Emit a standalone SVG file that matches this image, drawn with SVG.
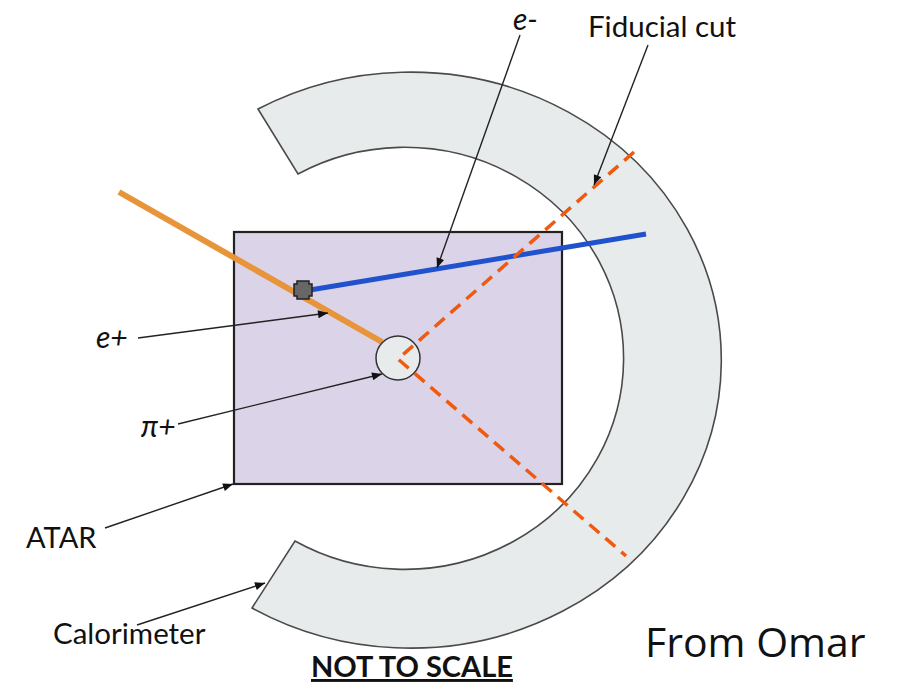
<svg xmlns="http://www.w3.org/2000/svg" width="897" height="686" viewBox="0 0 897 686">
<style>
.lbl{font-family:Lato,"Liberation Sans",sans-serif;fill:#111}
.it{font-style:italic}
.ptr{stroke:#222;stroke-width:1.4;fill:none;marker-end:url(#ah)}
.cut{stroke:#f05a0f;stroke-width:3.5;fill:none;stroke-dasharray:13 8}
</style>
<defs>
<marker id="ah" viewBox="0 0 10 8" refX="10" refY="4" markerWidth="11" markerHeight="8" markerUnits="userSpaceOnUse" orient="auto">
<path d="M0,0 L10,4 L0,8 Z" fill="#111"/>
</marker>
</defs>
<rect width="897" height="686" fill="#fff"/>
<g id="calorimeter">
<path d="M258,109 A311,288 0 1 1 252,608 L295,541 A219,211 0 1 0 298,174 Z" fill="#e8ebec" stroke="#4a4a4a" stroke-width="1.6"/>
</g>
<g id="atar">
<rect x="234" y="232" width="328" height="252" fill="#dbd3e8" stroke="#222" stroke-width="2.2"/>
</g>
<g id="tracks">
<line x1="119" y1="192" x2="382" y2="342" stroke="#e8943a" stroke-width="6"/>
<line x1="310" y1="290" x2="646" y2="234" stroke="#1f52cc" stroke-width="5"/>
</g>
<g id="pion">
<circle cx="398" cy="358" r="22" fill="#e8ebec" stroke="#333" stroke-width="1.5"/>
</g>
<g id="fiducial">
<path class="cut" d="M634,152 L398,359 L626,556"/>
</g>
<g id="vertex">
<polygon points="297,281 309,281 309,284 312,284 312,296 309,296 309,299 297,299 297,296 294,296 294,284 297,284" fill="#676767" stroke="#222" stroke-width="1.5"/>
</g>
<g id="connectors">
<line class="ptr" x1="520" y1="35" x2="437" y2="268"/>
<line class="ptr" x1="648" y1="45" x2="594" y2="185"/>
<line class="ptr" x1="138" y1="338" x2="328" y2="313"/>
<line class="ptr" x1="178" y1="424" x2="382" y2="374"/>
<line class="ptr" x1="105" y1="528" x2="233" y2="484"/>
<line class="ptr" x1="137" y1="625" x2="265" y2="583"/>
</g>
<g id="labels">
<text class="lbl it" x="513" y="30" font-size="30">e-</text>
<text class="lbl" x="588" y="37" font-size="29.5">Fiducial cut</text>
<text class="lbl it" x="96" y="348" font-size="30">e+</text>
<text class="lbl it" x="141" y="437" font-size="30">π+</text>
<text class="lbl" x="26" y="548" font-size="29">ATAR</text>
<text class="lbl" x="53" y="644" font-size="29.5">Calorimeter</text>
<text class="lbl" x="311" y="677" font-size="29" font-weight="bold" text-decoration="underline">NOT TO SCALE</text>
<text x="645" y="657" font-family="'Open Sans','Liberation Sans',sans-serif" font-size="41" fill="#111">From Omar</text>
</g>
</svg>
